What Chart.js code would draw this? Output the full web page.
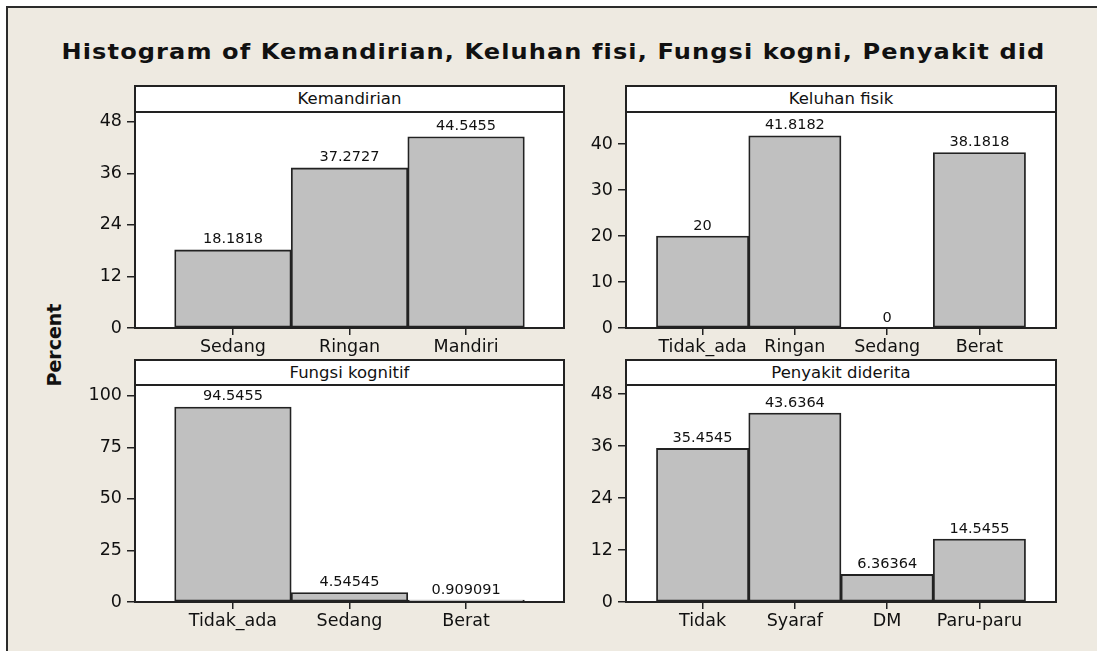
<!DOCTYPE html>
<html lang="en">
<head>
  <meta charset="UTF-8">
  <title>Histogram of Kemandirian, Keluhan fisi, Fungsi kogni, Penyakit did</title>
  <script src="https://cdn.jsdelivr.net/npm/chart.js"></script>
  <style>
    body {
      margin: 0;
      width: 1097px;
      height: 651px;
      overflow: hidden;
      background: #fff;
      font-family: "DejaVu Sans", Verdana, sans-serif;
      color: #111;
    }
    #frame {
      position: absolute;
      left: 6px;
      top: 6px;
      width: 1200px;
      height: 800px;
      border: 2px solid #2b2b2b;
      background: #eeeae1;
    }
    #title {
      position: absolute;
      left: 0;
      top: 38px;
      width: 1107px;
      text-align: center;
      font-weight: bold;
      font-size: 22px;
      letter-spacing: 1px;
      line-height: 28px;
      white-space: nowrap;
      transform: scaleX(1.094);
    }
    #ylabel {
      position: absolute;
      left: -6px;
      top: 333px;
      width: 120px;
      height: 24px;
      line-height: 24px;
      text-align: center;
      font-weight: bold;
      font-size: 19px;
      transform: rotate(-90deg);
    }
    .strip {
      position: absolute;
      box-sizing: border-box;
      border: 2px solid #222;
      background: #fff;
      text-align: center;
      font-size: 16.5px;
      line-height: 23px;
    }
    canvas {
      position: absolute;
    }
  </style>
</head>
<body>
  <div id="frame"></div>
  <div id="title">Histogram of Kemandirian, Keluhan fisi, Fungsi kogni, Penyakit did</div>
  <div id="ylabel">Percent</div>

  <div class="strip" style="left:134px; top:85px; width:431px; height:28px;">Kemandirian</div>
  <div class="strip" style="left:625px; top:85px; width:432px; height:28px;">Keluhan fisik</div>
  <div class="strip" style="left:134px; top:359px; width:431px; height:27px;">Fungsi kognitif</div>
  <div class="strip" style="left:625px; top:359px; width:432px; height:27px;">Penyakit diderita</div>

  <canvas id="kem" width="503" height="260" style="left:65px; top:108px;"></canvas>
  <canvas id="kel" width="504" height="260" style="left:556px; top:108px;"></canvas>
  <canvas id="fk" width="503" height="261" style="left:65px; top:381px;"></canvas>
  <canvas id="pd" width="504" height="261" style="left:556px; top:381px;"></canvas>

  <script>
    // Kemandirian
    const kemLabels = ['Sedang', 'Ringan', 'Mandiri'];
    const kemValues = [18.1818, 37.2727, 44.5455];
    const kemTicks = [0, 12, 24, 36, 48];

    // Keluhan fisik
    const kelLabels = ['Tidak_ada', 'Ringan', 'Sedang', 'Berat'];
    const kelValues = [20, 41.8182, 0, 38.1818];
    const kelTicks = [0, 10, 20, 30, 40];

    // Fungsi kognitif
    const fkLabels = ['Tidak_ada', 'Sedang', 'Berat'];
    const fkValues = [94.5455, 4.54545, 0.909091];
    const fkTicks = [0, 25, 50, 75, 100];

    // Penyakit diderita
    const pdLabels = ['Tidak', 'Syaraf', 'DM', 'Paru-paru'];
    const pdValues = [35.4545, 43.6364, 6.36364, 14.5455];
    const pdTicks = [0, 12, 24, 36, 48];

    const lineColor = '#222';
    const fontFamily = '"DejaVu Sans", Verdana, sans-serif';

    const panelPlugin = {
      id: 'panel',
      beforeDraw(chart) {
        const a = chart.chartArea, ctx = chart.ctx;
        ctx.save();
        ctx.fillStyle = '#fff';
        ctx.fillRect(a.left, a.top, a.right - a.left, a.bottom - a.top);
        ctx.restore();
      },
      afterDatasetsDraw(chart) {
        const ctx = chart.ctx;
        const meta = chart.getDatasetMeta(0);
        const values = chart.data.datasets[0].values;
        ctx.save();
        ctx.font = '14.5px ' + fontFamily;
        ctx.fillStyle = '#111';
        ctx.textAlign = 'center';
        ctx.textBaseline = 'bottom';
        meta.data.forEach((bar, i) => {
          ctx.fillText(String(values[i]), bar.x, bar.y - 3);
        });
        ctx.restore();
      },
      afterDraw(chart) {
        const a = chart.chartArea, ctx = chart.ctx;
        ctx.save();
        ctx.strokeStyle = lineColor;
        ctx.lineWidth = 2;
        ctx.strokeRect(a.left, a.top, a.right - a.left, a.bottom - a.top);
        ctx.restore();
      }
    };

    function drawPanel(id, labels, values, yTicks, yMax, xPad) {
      new Chart(document.getElementById(id), {
        type: 'bar',
        data: {
          datasets: [{
            data: values.map((v, i) => ({ x: i + 1, y: v })),
            values: values,
            backgroundColor: '#c0c0c0',
            borderColor: lineColor,
            borderWidth: 1.8,
            borderSkipped: false,
            barPercentage: 1,
            categoryPercentage: 1
          }]
        },
        options: {
          responsive: false,
          animation: false,
          layout: { padding: { left: 0, top: 4, right: 4, bottom: 0 } },
          plugins: { legend: { display: false }, tooltip: { enabled: false } },
          scales: {
            x: {
              type: 'linear',
              offset: false,
              min: 1 - xPad,
              max: labels.length + xPad,
              afterBuildTicks: s => { s.ticks = labels.map((_, i) => ({ value: i + 1 })); },
              afterFit: s => { s.height = 40; s.paddingLeft = 0; s.paddingRight = 0; },
              ticks: {
                callback: v => labels[v - 1],
                autoSkip: false,
                maxRotation: 0,
                color: '#111',
                padding: 2,
                font: { family: fontFamily, size: 17.5 }
              },
              grid: { offset: false, drawOnChartArea: false, tickLength: 7, tickColor: lineColor, lineWidth: 1.5 },
              border: { display: false }
            },
            y: {
              min: 0,
              max: yMax,
              afterBuildTicks: s => { s.ticks = yTicks.map(v => ({ value: v })); },
              afterFit: s => { s.width = 70; s.paddingTop = 0; s.paddingBottom = 0; },
              ticks: {
                color: '#111',
                padding: 5,
                font: { family: fontFamily, size: 17.5 }
              },
              grid: { drawOnChartArea: false, tickLength: 8, tickColor: lineColor, lineWidth: 1.5 },
              border: { display: false }
            }
          }
        },
        plugins: [panelPlugin]
      });
    }

    drawPanel('kem', kemLabels, kemValues, kemTicks, 50.3, 0.84);
    drawPanel('kel', kelLabels, kelValues, kelTicks, 47, 0.83);
    drawPanel('fk', fkLabels, fkValues, fkTicks, 105.2, 0.84);
    drawPanel('pd', pdLabels, pdValues, pdTicks, 50.1, 0.83);
  </script>
</body>
</html>
